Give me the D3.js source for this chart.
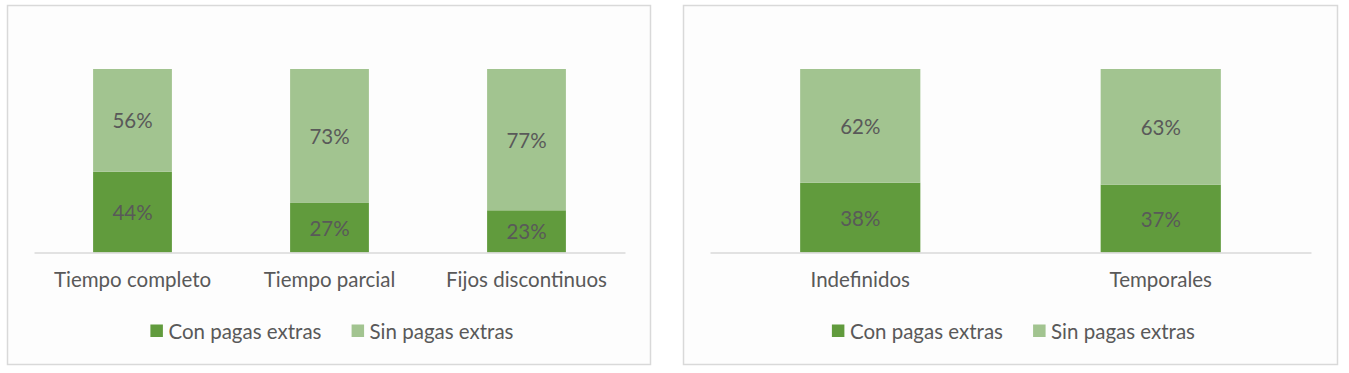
<!doctype html>
<html>
<head>
<script type='text/javascript' src='https://d3js.org/d3.v7.min.js'></script>
<style>
body { margin:0; background:#fff; }
text { font-family: Lato, 'Noto Sans', sans-serif; fill:#595959; }
</style>
</head>
<body>
<script>
var width = 1349, height = 373;
var fontSize = 20.5;

// data
var seriesNames = ['Con pagas extras', 'Sin pagas extras'];
var seriesColors = ['#619b3d', '#a2c490'];

var jornadaCats = ['Tiempo completo', 'Tiempo parcial', 'Fijos discontinuos'];
var jornadaCon = [44, 27, 23];
var jornadaSin = [56, 73, 77];

var contratoCats = ['Indefinidos', 'Temporales'];
var contratoCon = [38, 37];
var contratoSin = [62, 63];

var svg = d3.select('body').append('svg').attr('width', width).attr('height', height);

function drawPanel(px0, px1, ax0, ax1, cats, con, sin) {
  // panel frame
  svg.append('rect')
    .attr('x', px0).attr('y', 5.5)
    .attr('width', px1 - px0).attr('height', 359)
    .attr('fill', '#fdfdfd').attr('stroke', '#d9d9d9').attr('stroke-width', 1.5);

  var x = d3.scaleBand().domain(cats).range([ax0, ax1]).paddingInner(0.6).paddingOuter(0.3);
  var y = d3.scaleLinear().domain([0, 100]).range([252.5, 69]);

  var rows = cats.map(function(c, i) { return {cat: c, vals: [con[i], sin[i]]}; });
  var g = svg.append('g');

  rows.forEach(function(r) {
    var base = 0;
    r.vals.forEach(function(v, si) {
      g.append('rect')
        .attr('x', x(r.cat)).attr('width', x.bandwidth())
        .attr('y', y(base + v)).attr('height', y(base) - y(base + v))
        .attr('fill', seriesColors[si]);
      g.append('text')
        .attr('x', x(r.cat) + x.bandwidth() / 2)
        .attr('y', (y(base) + y(base + v)) / 2)
        .attr('text-anchor', 'middle').attr('dominant-baseline', 'central')
        .attr('font-size', fontSize)
        .text(v + '%');
      base += v;
    });
  });

  // axis
  var axis = svg.append('g').attr('transform', 'translate(0,' + y(0) + ')')
    .call(d3.axisBottom(x).tickSize(0).tickPadding(20));
  axis.select('.domain').attr('stroke', '#d9d9d9').attr('stroke-width', 1.5);
  axis.selectAll('text').attr('font-size', fontSize).attr('fill', '#595959')
    .style('font-family', 'Lato, sans-serif');

  // legend
  var leg = svg.append('g');
  var items = leg.selectAll('g').data(seriesNames).join('g');
  items.append('rect').attr('width', 12.5).attr('height', 12.5).attr('y', -6)
    .attr('fill', function(d, i) { return seriesColors[i]; });
  items.append('text').attr('x', 18).attr('dominant-baseline', 'central')
    .attr('font-size', fontSize).text(function(d) { return d; });
  var off = 0;
  items.each(function() {
    d3.select(this).attr('transform', 'translate(' + off + ',0)');
    off += this.getBBox().width + 30;
  });
  off -= 30;
  leg.attr('transform', 'translate(' + ((px0 + px1) / 2 - off / 2 + 3) + ',330.5)');
}

drawPanel(7.5, 650.5, 34, 625, jornadaCats, jornadaCon, jornadaSin);
drawPanel(683.5, 1337.5, 710, 1311, contratoCats, contratoCon, contratoSin);
</script>
</body>
</html>
